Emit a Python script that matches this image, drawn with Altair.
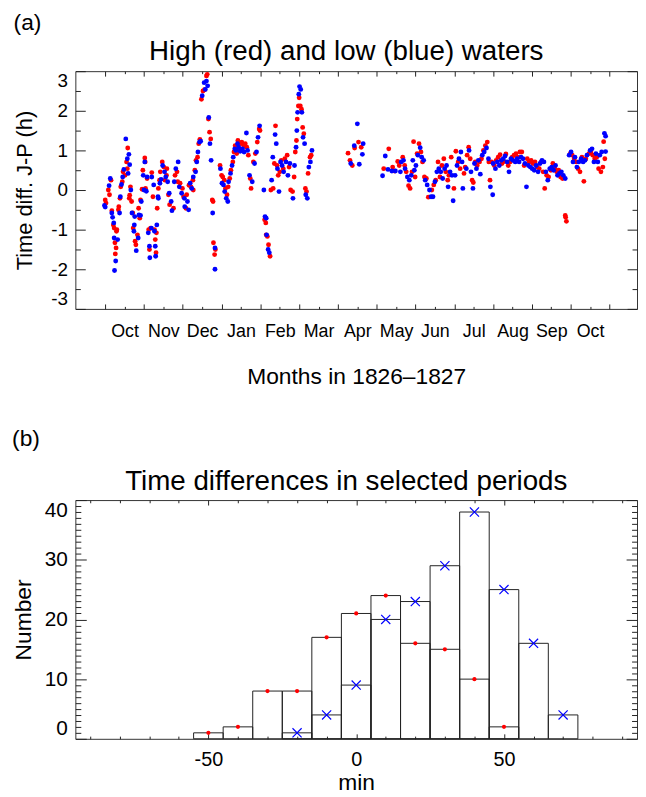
import json
import altair as alt
import pandas as pd

FONT = "Liberation Sans"

# ---------------- panel (a): time differences, months since 1 Oct 1826 ----------------
MONTH_NAMES = ["Oct", "Nov", "Dec", "Jan", "Feb", "Mar", "Apr", "May", "Jun", "Jul", "Aug", "Sep", "Oct"]
MONTH_STARTS = list(range(14))
MONTH_MIDS = [i + 0.5 for i in range(13)]
Y_MAJOR_A = [-3, -2, -1, 0, 1, 2, 3]
Y_MINOR_A = [-2.5, -1.5, -0.5, 0.5, 1.5, 2.5]

# high waters (red)
HIGH_T = [0.0, 0.02, 0.08, 0.11, 0.15, 0.17, 0.21, 0.23, 0.25, 0.26, 0.28, 0.29, 0.30, 0.34, 0.35, 0.38,
          0.40, 0.44, 0.46, 0.51, 0.55, 0.57, 0.58, 0.62, 0.63, 0.65, 0.68, 0.71, 0.72, 0.77, 0.79, 0.83,
          0.86, 0.89, 0.91, 0.95, 0.97, 1.02, 1.03, 1.04, 1.08, 1.12, 1.14, 1.17, 1.20, 1.23, 1.27, 1.29,
          1.31, 1.32, 1.34, 1.37, 1.40, 1.42, 1.47, 1.51, 1.54, 1.58, 1.59, 1.63, 1.66, 1.76, 1.80, 1.85,
          1.87, 1.93, 1.99, 2.02, 2.08, 2.10, 2.16, 2.21, 2.26, 2.27, 2.31, 2.34, 2.38, 2.41, 2.44, 2.48,
          2.52, 2.56, 2.61, 2.63, 2.66, 2.69, 2.72, 2.76, 2.78, 2.79, 2.82, 2.84, 2.96, 3.00, 3.03, 3.07,
          3.10, 3.14, 3.17, 3.21, 3.24, 3.29, 3.32, 3.35, 3.39, 3.42, 3.46, 3.50, 3.52, 3.57, 3.61, 3.65,
          3.69, 3.74, 3.76, 3.82, 3.87, 3.92, 3.97, 3.99, 4.11, 4.14, 4.15, 4.18, 4.21, 4.25, 4.27, 4.33,
          4.36, 4.39, 4.43, 4.46, 4.50, 4.54, 4.59, 4.63, 4.69, 4.74, 4.78, 4.83, 4.87, 4.90, 4.93, 4.95,
          4.98, 5.00, 5.03, 5.06, 5.09, 5.12, 5.16, 5.19, 5.23, 5.28, 5.31,
          6.26, 6.31, 6.37, 6.43, 6.53, 6.60,
          7.18, 7.31, 7.41, 7.46, 7.54, 7.58, 7.67, 7.72, 7.76, 7.82, 7.86, 7.91, 7.95, 7.99, 8.04, 8.09,
          8.14, 8.18, 8.23, 8.28, 8.33, 8.42, 8.47, 8.52, 8.58, 8.63, 8.68, 8.73, 8.78, 8.83, 8.86, 8.92,
          8.99, 9.04, 9.10, 9.15, 9.25, 9.28, 9.33, 9.37, 9.41, 9.46, 9.49, 9.54, 9.59, 9.65, 9.70, 9.75,
          9.80, 9.85, 9.89, 9.92, 9.96, 10.03, 10.08, 10.13, 10.18, 10.23, 10.28, 10.33, 10.39, 10.44,
          10.49, 10.54, 10.59, 10.64, 10.69, 10.74, 10.80, 10.88, 10.93, 10.98, 11.03, 11.08, 11.13,
          11.19, 11.24, 11.29, 11.33, 11.38, 11.43, 11.49, 11.54, 11.59, 11.64, 11.69, 11.74, 11.79,
          11.86, 11.87, 11.89, 11.99, 12.04, 12.09, 12.14, 12.19, 12.24, 12.29, 12.34, 12.39, 12.47,
          12.52, 12.57, 12.62, 12.67, 12.72, 12.78, 12.83, 12.85, 12.88]
HIGH_V = [-0.25, -0.33, 0.0, -0.12, 0.25, -0.52, -0.88, -0.96, -1.33, -1.61, -1.46, -1.04, -1.0, -0.5, -0.42, -0.21,
          0.08, 0.21, 0.46, 0.37, 0.71, 0.54, 1.06, -0.21, -0.13, 0.08, -0.29, -0.58, -0.96, -1.29, -1.38, -1.13,
          -0.46, -0.71, -0.25, 0.02, 0.5, 0.81, 0.71, 0.04, 0.29, -1.0, -1.5, -0.96, 0.44, -0.17, -1.0, -1.25,
          -1.58, -1.08, -0.46, 0.04, 0.25, 0.46, 0.71, 0.58, 0.25, 0.37, 0.54, -0.12, -0.37, -0.46, 0.37, 0.46,
          0.21, 0.17, 0.04, -0.17, -0.46, -0.12, 0.12, 0.08, 0.25, 0.0, 0.5, 0.75, 0.83, 1.17, 1.28, 2.29,
          2.5, 2.53, 2.88, 2.92, 1.79, 1.46, 1.29, -0.25, -0.29, -1.33, -1.63, -1.5, 0.62, 0.37, 0.33, 0.25,
          0.04, -0.12, 0.08, 0.29, 0.5, 0.71, 0.96, 1.12, 0.92, 1.25, 1.04, 1.17, 1.21, 1.12, 1.17, 1.08,
          0.88, 0.29, 0.04, 0.71, 0.92, 1.21, 1.54, 1.5, -0.75, -0.83, -1.13, -1.17, -1.38, -1.67, 0.0, 0.04,
          0.67, 1.62, 0.62, 0.37, 0.46, 0.75, 0.54, 0.79, 0.88, 0.58, 0.0, -0.04, 0.33, 0.96, 1.25, 1.79,
          2.12, 2.33, 2.12, 2.04, 1.58, 1.42, 0.04, -0.04, 0.42, 0.83, 0.88,
          0.93, 0.75, 0.62, 1.06, 1.21, 1.08,
          0.54, 1.04, 0.58, 0.48, 0.72, 0.62, 0.83, 0.62, 0.46, 0.11, 0.04, 0.46, 1.22, 0.33, 0.92, 1.17,
          0.96, 0.71, 0.33, 0.29, -0.18, 0.0, 0.13, 0.25, 0.71, 0.33, 0.62, 0.79, 0.46, 0.25, 0.37, 0.83,
          0.04, 0.98, 0.71, 0.54, 0.42, 0.58, 0.88, 1.08, 0.79, 0.25, 0.19, 0.71, 0.62, 0.71, 0.79, 1.0,
          1.12, 1.21, 0.71, 0.25, 0.71, 0.62, 0.75, 0.83, 0.89, 0.67, 0.72, 0.91, 0.62, 0.71,
          0.83, 0.88, 0.92, 0.83, 0.96, 0.96, 0.62, 0.79, 0.71, 0.75, 0.67, 0.71, 0.58,
          0.54, 0.71, 0.46, 0.04, 0.37, 0.33, 0.5, 0.67, 0.54, 0.46, 0.5, 0.33, 0.29,
          -0.64, -0.69, -0.79, 0.92, 0.88, 0.79, 0.71, 0.54, 0.46, 0.83, 0.22, 0.79, 0.92,
          0.96, 0.88, 0.79, 0.83, 0.54, 0.46, 0.58, 1.22, 0.79]

# low waters (blue)
LOW_T = [-0.02, 0.0, 0.10, 0.13, 0.17, 0.19, 0.22, 0.23, 0.24, 0.27, 0.32, 0.37, 0.39, 0.42, 0.45, 0.48,
         0.53, 0.57, 0.59, 0.61, 0.63, 0.66, 0.69, 0.74, 0.75, 0.76, 0.80, 0.85, 0.87, 0.91, 0.93, 0.98,
         1.00, 1.02, 1.06, 1.08, 1.11, 1.14, 1.15, 1.19, 1.20, 1.25, 1.27, 1.29, 1.30, 1.33, 1.36, 1.37,
         1.41, 1.44, 1.48, 1.53, 1.56, 1.61, 1.65, 1.70, 1.72, 1.78, 1.82, 1.88, 1.91, 1.97, 2.04, 2.05,
         2.12, 2.15, 2.19, 2.23, 2.27, 2.33, 2.36, 2.39, 2.43, 2.46, 2.50, 2.55, 2.58, 2.61, 2.64, 2.67,
         2.70, 2.73, 2.77, 2.83, 2.83, 2.97, 3.01, 3.05, 3.08, 3.12, 3.16, 3.18, 3.23, 3.27, 3.30, 3.34,
         3.37, 3.41, 3.44, 3.48, 3.54, 3.58, 3.64, 3.67, 3.72, 3.79, 3.85, 3.90, 3.94, 3.98, 4.09, 4.12,
         4.15, 4.16, 4.20, 4.23, 4.29, 4.32, 4.38, 4.41, 4.44, 4.48, 4.52, 4.56, 4.60, 4.66, 4.71, 4.76,
         4.84, 4.88, 4.92, 4.94, 4.96, 4.99, 5.01, 5.04, 5.07, 5.10, 5.14, 5.17, 5.21, 5.25, 5.29, 5.33,
         6.33, 6.42, 6.50, 6.55, 6.63, 6.65,
         7.15, 7.22, 7.29, 7.39, 7.48, 7.61, 7.63, 7.69, 7.73, 7.79, 7.84, 7.89, 7.93, 7.97, 8.01, 8.06,
         8.12, 8.16, 8.21, 8.25, 8.30, 8.36, 8.40, 8.45, 8.50, 8.55, 8.60, 8.65, 8.70, 8.75, 8.80, 8.84,
         8.89, 8.94, 8.97, 9.02, 9.07, 9.12, 9.17, 9.20, 9.22, 9.31, 9.38, 9.43, 9.48, 9.52, 9.57, 9.62,
         9.67, 9.72, 9.77, 9.83, 9.88, 9.93, 9.99, 10.0, 10.06, 10.11, 10.16, 10.21, 10.26, 10.31, 10.36,
         10.41, 10.46, 10.51, 10.57, 10.62, 10.67, 10.72, 10.77, 10.82, 10.86, 10.91, 10.96, 11.01,
         11.06, 11.11, 11.16, 11.21, 11.26, 11.31, 11.36, 11.41, 11.46, 11.51, 11.56, 11.61, 11.66,
         11.71, 11.76, 11.81, 11.86, 11.96, 12.01, 12.06, 12.11, 12.16, 12.21, 12.27, 12.32, 12.37,
         12.42, 12.50, 12.55, 12.60, 12.65, 12.70, 12.75, 12.80, 12.87, 12.90, 12.90]
LOW_V = [-0.39, -0.43, 0.11, 0.29, -0.58, -0.69, -0.83, -1.21, -2.03, -1.79, -1.25, -0.58, -0.17, 0.14, 0.33, 0.52,
         1.29, 0.79, 0.42, 0.9, 0.64, 0.0, -0.58, -1.04, -0.88, -0.67, -1.53, -1.21, -0.63, -0.64, -0.29, 0.37,
         0.0, 0.71, -0.03, 0.33, -1.08, -1.42, -1.71, -0.96, 0.33, 0.13, -1.04, -1.42, -1.67, -0.88, -0.17, -0.21,
         0.17, 0.27, 0.62, 0.46, 0.33, 0.21, -0.08, -0.29, -0.52, 0.21, 0.54, 0.71, 0.08, -0.08, -0.21, -0.42,
         -0.29, -0.5, 0.17, 0.04, 0.33, 0.46, 0.71, 0.96, 1.21, 1.23, 2.38, 2.71, 2.54, 2.75, 2.63, 1.83,
         1.17, 0.75, -0.58, -1.46, -2.0, 0.54, 0.17, 0.13, -0.04, -0.21, -0.29, 0.21, 0.42, 0.62, 0.83, 1.04,
         1.0, 1.17, 1.08, 0.98, 1.04, 0.96, 1.44, 1.0, 0.37, 0.21, 0.67, 0.96, 1.33, 1.62, 0.0, -0.67,
         -0.71, -1.13, -1.5, -1.58, 0.25, 0.83, 1.4, 1.17, 0.54, -0.04, 0.71, 0.62, 0.46, 0.71, 0.37, 0.67,
         -0.21, 0.62, 1.08, 1.5, 1.96, 2.42, 2.61, 2.54, 1.96, 1.33, 1.17, -0.12, -0.21, 0.58, 0.71, 1.0,
         0.67, 1.12, 1.67, 0.65, 0.9, 1.17,
         0.36, 0.86, 0.52, 0.48, 0.48, 0.46, 0.71, 0.75, 0.54, 0.33, 0.25, 0.37, 0.75, 0.5, 0.62, 0.88,
         1.07, 0.83, 0.75, 0.25, 0.13, 0.0, -0.17, -0.17, 0.21, 0.46, 0.54, 0.46, 0.29, 0.54, 0.62, 0.08,
         0.46, 0.37, -0.27, 0.37, 0.62, 0.79, 0.96, 0.71, 0.04, 0.54, 1.0, 0.46, 0.04, 0.67, 0.54, 0.75,
         0.4, 0.88, 0.96, 1.06, 0.79, 0.08, -0.12, 0.67, 0.54, 0.71, 0.62, 0.75, 0.79, 0.86, 0.71,
         0.46, 0.79, 0.75, 0.71, 0.79, 0.71, 0.83, 0.79, 0.67, 0.08, 0.62, 0.58, 0.54,
         0.5, 0.62, 0.46, 0.67, 0.75, 0.71, 0.46, 0.25, 0.54, 0.58, 0.5, 0.62, 0.37,
         0.42, 0.46, 0.37, 0.29, 0.88, 0.96, 0.71, 0.83, 0.58, 0.71, 0.79, 0.71, 0.75,
         0.88, 1.0, 1.04, 0.71, 0.92, 0.71, 0.88, 0.96, 1.43, 0.97, 1.36]

# ---------------- panel (b): histograms of time differences (min) ----------------
BIN_CENTERS = [-50, -40, -30, -20, -10, 0, 10, 20, 30, 40, 50, 60, 70]
HIGH_COUNTS = [1, 2, 8, 8, 17, 21, 24, 16, 15, 10, 2, 0, 0]
LOW_COUNTS = [0, 0, 0, 1, 4, 9, 20, 23, 29, 38, 25, 16, 4]
X_MAJOR_B = [-50, 0, 50]
X_MINOR_B = [-90, -80, -70, -60, -40, -30, -20, -10, 10, 20, 30, 40, 60, 70, 80, 90]
Y_MAJOR_B = [0, 10, 20, 30, 40]
Y_MINOR_B = [v for v in range(0, 41) if v % 10 != 0]

W = 567
H_A = 240
H_B = 241
TICK = "#222222"

high_df = pd.DataFrame({"t": HIGH_T, "v": HIGH_V})
low_df = pd.DataFrame({"t": LOW_T, "v": LOW_V})
hist_high = pd.DataFrame({"center": BIN_CENTERS, "count": HIGH_COUNTS})
hist_high = hist_high[hist_high["count"] > 0]
hist_low = pd.DataFrame({"center": BIN_CENTERS, "count": LOW_COUNTS})
hist_low = hist_low[hist_low["count"] > 0]


def tick_axis(orient, offset, values, size):
    return alt.Axis(orient=orient, offset=offset, values=values, tickSize=size, ticks=True,
                    labels=False, domain=False, grid=False, tickColor=TICK, tickWidth=1)


# ---------- panel (a) ----------
xs_a = alt.Scale(domain=[-0.77, 13.71], nice=False, zero=False)
ys_a = alt.Scale(domain=[-3, 3], nice=False, zero=False)

month_expr = "%s[floor(datum.value)]" % json.dumps(MONTH_NAMES)
x_lab_a = alt.Axis(orient="bottom", values=MONTH_MIDS, labelExpr=month_expr, ticks=False, domain=False,
                   grid=False, labelFontSize=18, labelPadding=14, labelOverlap=False,
                   title="Months in 1826\u20131827", titleFontSize=23, titlePadding=25)
y_lab_a = alt.Axis(orient="left", values=Y_MAJOR_A, labelExpr="'' + datum.value", ticks=False, domain=False,
                   grid=False, labelFontSize=19, labelPadding=8, labelFlush=True,
                   title="Time diff. J-P (h)", titleFontSize=22, titlePadding=14)


def pts(df, color, xaxis, yaxis, opacity=1.0):
    return alt.Chart(df).mark_circle(size=24, color=color, opacity=opacity).encode(
        x=alt.X("t:Q", scale=xs_a, axis=xaxis, title=None),
        y=alt.Y("v:Q", scale=ys_a, axis=yaxis, title=None),
    )


a_red = pts(high_df, "#ff0000", x_lab_a, y_lab_a)
a_blue = pts(low_df, "#0000ff", tick_axis("top", -H_A, MONTH_STARTS, 5), tick_axis("right", -W, Y_MAJOR_A, 10))
a_d1 = pts(high_df, "#ff0000", tick_axis("top", -H_A, MONTH_MIDS, 2.5), tick_axis("right", -W, Y_MINOR_A, 5), 0)
a_d2 = pts(high_df, "#ff0000", tick_axis("bottom", -H_A, MONTH_STARTS, 5), tick_axis("left", -W, Y_MAJOR_A, 10), 0)
a_d3 = pts(high_df, "#ff0000", tick_axis("bottom", -H_A, MONTH_MIDS, 2.5), tick_axis("left", -W, Y_MINOR_A, 5), 0)

panel_a = alt.layer(a_d1, a_d2, a_d3, a_red, a_blue).resolve_axis(x="independent", y="independent").properties(
    width=W, height=H_A,
    title=alt.TitleParams("High (red) and low (blue) waters", fontSize=28, anchor="middle", frame="group",
                          offset=5, dx=-10),
)

# ---------- panel (b) ----------
xs_b = alt.Scale(domain=[-95, 95], nice=False, zero=False)
ys_b = alt.Scale(domain=[0, 40], nice=False, zero=False)

x_lab_b = alt.Axis(orient="bottom", values=X_MAJOR_B, labelExpr="'' + datum.value", ticks=False, domain=False,
                   grid=False, labelFontSize=20, labelPadding=11, labelOverlap=False,
                   title="min", titleFontSize=23, titlePadding=2)
y_lab_b = alt.Axis(orient="left", values=Y_MAJOR_B, labelExpr="'' + datum.value", ticks=False, domain=False,
                   grid=False, labelFontSize=21, labelPadding=8, labelFlush=True,
                   title="Number", titleFontSize=23, titlePadding=9)


def bars(df, xaxis, yaxis):
    return alt.Chart(df).transform_calculate(lo="datum.center - 5", hi="datum.center + 5").mark_rect(
        fill="white", fillOpacity=0, stroke="#222222", strokeWidth=1
    ).encode(
        x=alt.X("lo:Q", scale=xs_b, axis=xaxis, title=None),
        x2="hi:Q",
        y=alt.Y("count:Q", scale=ys_b, axis=yaxis, title=None),
        y2=alt.datum(0),
    )


b_high = bars(hist_high, x_lab_b, y_lab_b)
b_low = bars(hist_low, tick_axis("top", -H_B, X_MAJOR_B, 5), tick_axis("right", -W, Y_MAJOR_B, 11))
b_red = alt.Chart(hist_high).mark_circle(size=18, color="#ff0000", opacity=1).encode(
    x=alt.X("center:Q", scale=xs_b, axis=tick_axis("top", -H_B, X_MINOR_B, 2.7), title=None),
    y=alt.Y("count:Q", scale=ys_b, axis=tick_axis("right", -W, Y_MINOR_B, 5.5), title=None),
)
b_blue = alt.Chart(hist_low).mark_point(shape="M-1,-1L1,1M-1,1L1,-1", size=85, color="#0000ff",
                                        filled=False, strokeWidth=1.2, opacity=1).encode(
    x=alt.X("center:Q", scale=xs_b, axis=tick_axis("bottom", -H_B, X_MAJOR_B, 5), title=None),
    y=alt.Y("count:Q", scale=ys_b, axis=tick_axis("left", -W, Y_MAJOR_B, 11), title=None),
)
b_dummy = alt.Chart(hist_low).mark_circle(size=1, opacity=0).encode(
    x=alt.X("center:Q", scale=xs_b, axis=tick_axis("bottom", -H_B, X_MINOR_B, 2.7), title=None),
    y=alt.Y("count:Q", scale=ys_b, axis=tick_axis("left", -W, Y_MINOR_B, 5.5), title=None),
)

panel_b = alt.layer(b_dummy, b_high, b_low, b_red, b_blue).resolve_axis(x="independent", y="independent").properties(
    width=W, height=H_B,
    title=alt.TitleParams("Time differences in selected periods", fontSize=28, anchor="middle", frame="group",
                          offset=4, dx=-10),
)

wrap_a = alt.vconcat(panel_a, title=alt.TitleParams("(a)", anchor="start", fontSize=23, offset=3))
wrap_b = alt.vconcat(panel_b, title=alt.TitleParams("(b)", anchor="start", fontSize=23, offset=17))

chart = alt.vconcat(wrap_a, wrap_b, spacing=39).properties(
    padding={"left": 4, "top": 0, "right": 0, "bottom": 0}
).configure_view(
    stroke="#333333", strokeWidth=1
).configure_axis(
    labelFont=FONT, titleFont=FONT, labelColor="black", titleColor="black", titleFontWeight="normal"
).configure_title(
    font=FONT, color="black", fontWeight="normal"
)

chart.save("out.html", embed_options={"renderer": "svg", "actions": False})
